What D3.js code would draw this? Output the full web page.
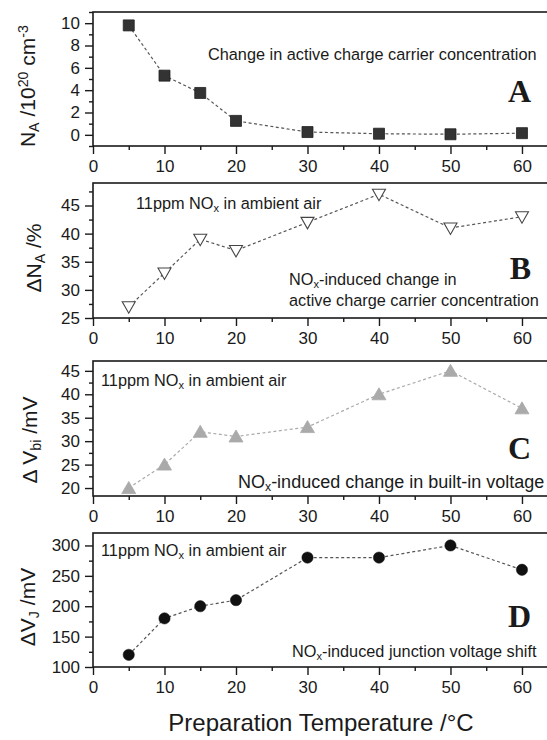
<!DOCTYPE html>
<html>
<head>
<meta charset="utf-8">
<script src="https://cdn.jsdelivr.net/npm/d3@7"></script>
<style>
  body { margin: 0; background: #fff; }
  svg { display: block; }
  text { fill: #1a1a1a; }
</style>
</head>
<body>
<svg id="fig" width="547" height="740" font-family="'Liberation Sans', Arial, sans-serif"></svg>
<script>
// Preparation temperatures (°C)
const temps = [5, 10, 15, 20, 30, 40, 50, 60];

// Panel A: active charge carrier concentration (10^20 cm^-3)
const carrierConc = [9.8, 5.3, 3.75, 1.25, 0.25, 0.1, 0.05, 0.15];
// Panel B: NOx-induced change in carrier concentration (%)
const deltaCarrier = [27, 33, 39, 37, 42, 47, 41, 43];
// Panel C: NOx-induced change in built-in voltage (mV)
const deltaVbi = [20, 25, 32, 31, 33, 40, 45, 37];
// Panel D: NOx-induced junction voltage shift (mV)
const deltaVj = [120, 180, 200, 210, 280, 280, 300, 260];

// Axis ticks
const xTicks = [0, 10, 20, 30, 40, 50, 60];
const xMinorTicks = [5, 15, 25, 35, 45, 55];
const yTicksA = [0, 2, 4, 6, 8, 10];
const yMinorA = [-1, 1, 3, 5, 7, 9, 11];
const yTicksB = [25, 30, 35, 40, 45];
const yMinorB = [27.5, 32.5, 37.5, 42.5, 47.5];
const yTicksC = [20, 25, 30, 35, 40, 45];
const yMinorC = [22.5, 27.5, 32.5, 37.5, 42.5];
const yTicksD = [100, 150, 200, 250, 300];
const yMinorD = [125, 175, 225, 275];

const svg = d3.select("#fig");
const LEFT = 93, RIGHT = 547;
const x = d3.scaleLinear().domain([0, 63.5]).range([LEFT, RIGHT]);

// Writes a run of text segments; sub/sup segments are shrunk and shifted.
function rich(sel, parts, size) {
  parts.forEach(p => {
    const ts = sel.append("tspan").text(p.t);
    if (p.s === "sub") ts.attr("font-size", size * 0.68).attr("baseline-shift", "-28%");
    else if (p.s === "sup") ts.attr("font-size", size * 0.68).attr("baseline-shift", "48%");
  });
  return sel;
}

const markers = {
  square: { path: "M-5.5,-5.5H5.5V5.5H-5.5Z", fill: "#333", stroke: "#222", sw: 0.8 },
  triDown: { path: "M-6.5,-5L6.5,-5L0,6.5Z", fill: "#fff", stroke: "#444", sw: 1.1 },
  triUp: { path: "M-7,5.5L7,5.5L0,-6.5Z", fill: "#aaa", stroke: "#aaa", sw: 0.8 },
  circle: { path: d3.symbol(d3.symbolCircle, 100)(), fill: "#111", stroke: "#111", sw: 0.5 }
};

const panels = [
  {
    top: 12, bottom: 146, domain: [-1, 11], values: carrierConc,
    ticks: yTicksA, minor: yMinorA, marker: "square", lineColor: "#555",
    title: [{t: "N"}, {t: "A", s: "sub"}, {t: " /10"}, {t: "20", s: "sup"}, {t: " cm"}, {t: "-3", s: "sup"}],
    titleX: 35, titleY: 86,
    letter: "A", letterY: 102,
    notes: [
      { x: 208, y: 60, size: 16.3, parts: [{t: "Change in active charge carrier concentration"}] }
    ]
  },
  {
    top: 183, bottom: 318, domain: [25, 49], values: deltaCarrier,
    ticks: yTicksB, minor: yMinorB, marker: "triDown", lineColor: "#555",
    title: [{t: "\u0394N"}, {t: "A", s: "sub"}, {t: " /%"}],
    titleX: 41, titleY: 258,
    letter: "B", letterY: 279,
    notes: [
      { x: 136, y: 209, size: 16.3, parts: [{t: "11ppm NO"}, {t: "x", s: "sub"}, {t: " in ambient air"}] },
      { x: 289, y: 285, size: 16.3, parts: [{t: "NO"}, {t: "x", s: "sub"}, {t: "-induced change in"}] },
      { x: 289, y: 306, size: 16.3, parts: [{t: "active charge carrier concentration"}] }
    ]
  },
  {
    top: 361, bottom: 496, domain: [18.3, 47.1], values: deltaVbi,
    ticks: yTicksC, minor: yMinorC, marker: "triUp", lineColor: "#aaa",
    title: [{t: "\u0394 V"}, {t: "bi", s: "sub"}, {t: " /mV"}],
    titleX: 37, titleY: 440,
    letter: "C", letterY: 459,
    notes: [
      { x: 101, y: 386, size: 16.3, parts: [{t: "11ppm NO"}, {t: "x", s: "sub"}, {t: " in ambient air"}] },
      { x: 238, y: 488, size: 18, parts: [{t: "NO"}, {t: "x", s: "sub"}, {t: "-induced change in built-in voltage"}] }
    ]
  },
  {
    top: 533, bottom: 667, domain: [100, 320.5], values: deltaVj,
    ticks: yTicksD, minor: yMinorD, marker: "circle", lineColor: "#555",
    title: [{t: "\u0394V"}, {t: "J", s: "sub"}, {t: " /mV"}],
    titleX: 35, titleY: 607,
    letter: "D", letterY: 627,
    notes: [
      { x: 101, y: 556, size: 16.3, parts: [{t: "11ppm NO"}, {t: "x", s: "sub"}, {t: " in ambient air"}] },
      { x: 292, y: 657, size: 16.3, parts: [{t: "NO"}, {t: "x", s: "sub"}, {t: "-induced junction voltage shift"}] }
    ]
  }
];

panels.forEach(p => {
  const g = svg.append("g");
  const y = d3.scaleLinear().domain(p.domain).range([p.bottom, p.top]);

  // frame
  g.append("rect")
    .attr("x", LEFT).attr("y", p.top)
    .attr("width", RIGHT + 2 - LEFT).attr("height", p.bottom - p.top)
    .attr("fill", "none").attr("stroke", "#1a1a1a").attr("stroke-width", 1.6);

  // x axis
  const xAxis = d3.axisBottom(x).tickValues(xTicks).tickSize(8).tickPadding(6).tickFormat(d3.format("d"));
  const gx = g.append("g").attr("transform", `translate(0,${p.bottom})`).call(xAxis);
  const gxm = g.append("g").attr("transform", `translate(0,${p.bottom})`)
    .call(d3.axisBottom(x).tickValues(xMinorTicks).tickSize(4).tickFormat(""));

  // y axis
  const yAxis = d3.axisLeft(y).tickValues(p.ticks).tickSize(8).tickPadding(5).tickFormat(d3.format("d"));
  const gy = g.append("g").attr("transform", `translate(${LEFT},0)`).call(yAxis);
  const gym = g.append("g").attr("transform", `translate(${LEFT},0)`)
    .call(d3.axisLeft(y).tickValues(p.minor.filter(v => v >= p.domain[0] && v <= p.domain[1])).tickSize(4).tickFormat(""));

  [gx, gxm, gy, gym].forEach(a => {
    a.select(".domain").remove();
    a.attr("font-family", null);
    a.selectAll("line").attr("stroke", "#1a1a1a").attr("stroke-width", 1.4);
    a.selectAll("text").attr("font-size", 17).attr("fill", "#1a1a1a");
  });

  // y title
  rich(g.append("text")
    .attr("transform", `translate(${p.titleX},${p.titleY}) rotate(-90)`)
    .attr("text-anchor", "middle")
    .attr("font-size", 21), p.title, 21);

  // dashed connecting line
  const pts = temps.map((t, i) => [t, p.values[i]]);
  g.append("path")
    .datum(pts)
    .attr("d", d3.line().x(d => x(d[0])).y(d => y(d[1])))
    .attr("fill", "none")
    .attr("stroke", p.lineColor)
    .attr("stroke-width", 1.2)
    .attr("stroke-dasharray", "3,2.5");

  // markers
  const m = markers[p.marker];
  g.selectAll("path.pt").data(pts).enter().append("path")
    .attr("class", "pt")
    .attr("transform", d => `translate(${x(d[0])},${y(d[1])})`)
    .attr("d", m.path)
    .attr("fill", m.fill).attr("stroke", m.stroke).attr("stroke-width", m.sw);

  // annotations
  p.notes.forEach(n => {
    rich(g.append("text").attr("x", n.x).attr("y", n.y).attr("font-size", n.size), n.parts, n.size);
  });

  // panel letter
  g.append("text")
    .attr("x", 531).attr("y", p.letterY)
    .attr("text-anchor", "end")
    .style("font-family", "'Liberation Serif', 'Times New Roman', serif")
    .style("font-weight", "bold")
    .attr("font-size", 32)
    .text(p.letter);
});

// shared x title
svg.append("text")
  .attr("x", 321).attr("y", 731)
  .attr("text-anchor", "middle")
  .attr("font-size", 24)
  .text("Preparation Temperature /\u00b0C");
</script>
</body>
</html>
